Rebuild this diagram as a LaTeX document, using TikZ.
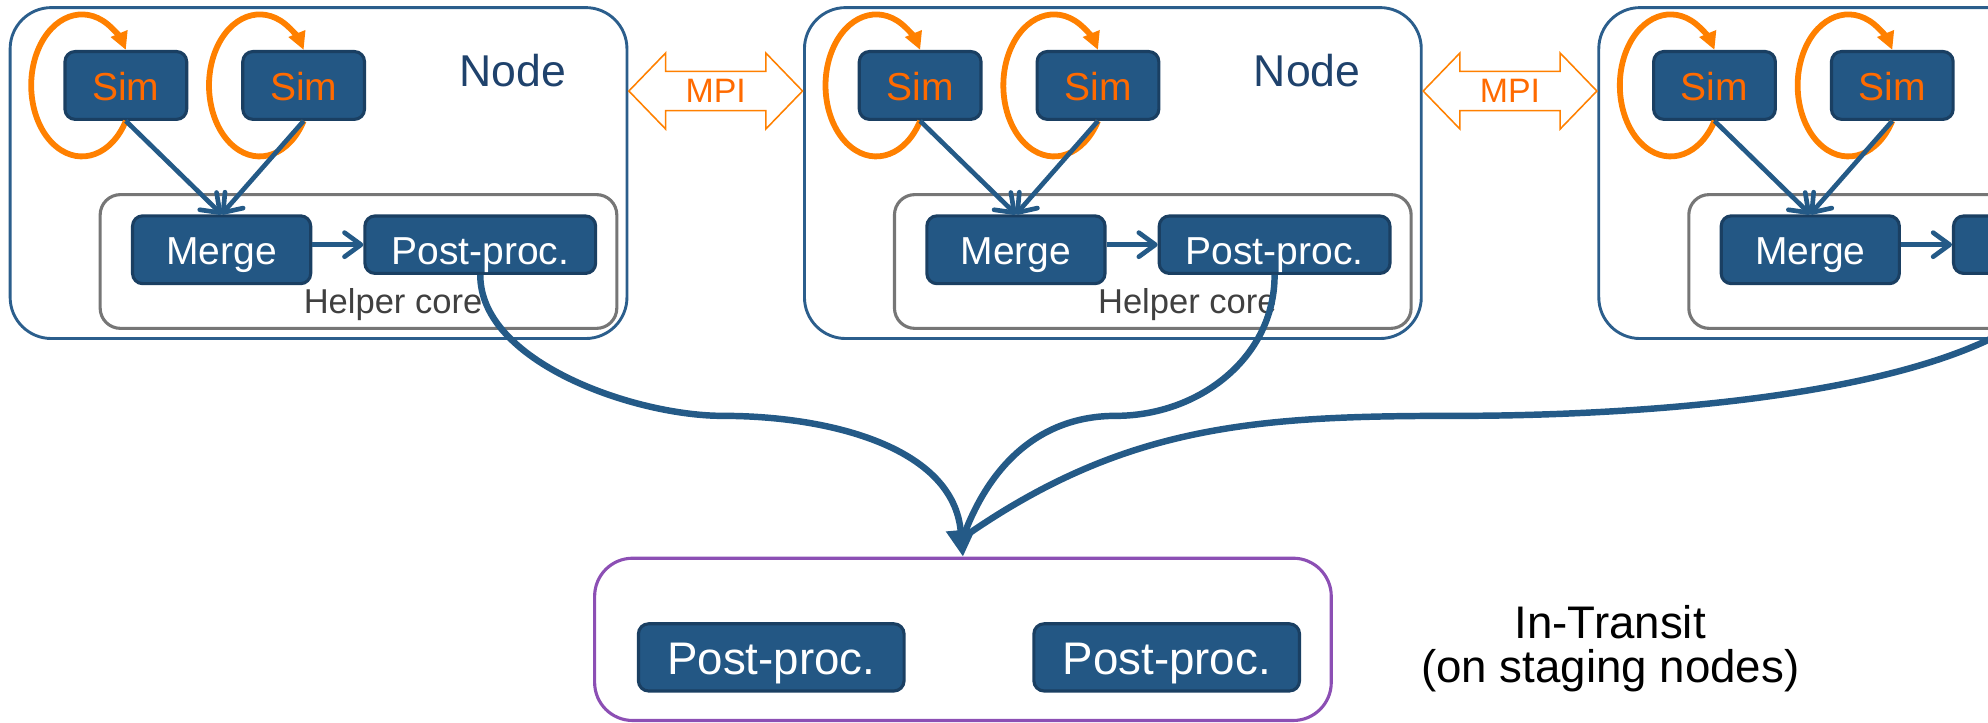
\documentclass[tikz,border=0pt]{standalone}
\usepackage{fontspec}
\setmainfont{Liberation Sans}
\usetikzlibrary{arrows.meta,calc}

\definecolor{boxblue}{HTML}{235784}
\definecolor{boxedge}{HTML}{1A3F62}
\definecolor{nodeblue}{HTML}{2B5E8C}
\definecolor{labelblue}{HTML}{1F426C}
\definecolor{loopor}{HTML}{FF8000}
\definecolor{simor}{HTML}{FF6A00}
\definecolor{linkblue}{HTML}{245A87}
\definecolor{corgray}{HTML}{767676}
\definecolor{coretext}{HTML}{404040}
\definecolor{stagepurple}{HTML}{8C4FB4}

\tikzset{
  nodebox/.style={draw=nodeblue, line width=1.3pt, rounded corners=0.65cm},
  corebox/.style={draw=corgray, line width=1.4pt, rounded corners=0.32cm},
  blk/.style={draw=boxedge, fill=boxblue, line width=1.4pt, rounded corners=0.16cm,
    inner sep=0pt, text=white, text depth=0pt, font=\fontsize{17.5}{20}\selectfont},
  simbox/.style={blk, text=simor, minimum width=1.92cm, minimum height=1.07cm, text height=0.48cm},
  mergebox/.style={blk, minimum width=2.81cm, minimum height=1.07cm, text height=0.47cm},
  postbox/.style={blk, minimum width=3.64cm, minimum height=0.906cm, text height=0.636cm},
  stagepost/.style={blk, minimum width=4.19cm, minimum height=1.06cm, text height=0.54cm,
    font=\fontsize{20.5}{24}\selectfont},
  stagebox/.style={draw=stagepurple, line width=1.4pt, rounded corners=0.6cm,
    minimum width=11.62cm, minimum height=2.56cm},
  simloop/.style={draw=loopor, line width=2.6pt, -{Triangle[length=0.28cm,width=0.27cm]}},
  feed/.style={draw=linkblue, line width=2.1pt, -{Straight Barb[length=0.26cm,width=0.38cm,round]}},
  flow/.style={draw=linkblue, line width=2.9pt},
  mpiarrow/.style={draw=loopor, line width=0.7pt},
  mpitxt/.style={text=simor, inner sep=0pt, text depth=0pt, font=\fontsize{15.2}{18}\selectfont},
  nodelbl/.style={text=labelblue, anchor=base, inner sep=0pt, font=\fontsize{20}{24}\selectfont},
  corelbl/.style={text=coretext, anchor=base, inner sep=0pt, font=\fontsize{15.5}{18}\selectfont},
  transit/.style={align=center, inner sep=0pt, font=\fontsize{20.5}{19.9}\selectfont}
}

\begin{document}
\begin{tikzpicture}
  \useasboundingbox (0,0) rectangle (31.36,11.4);
  \clip (0,0) rectangle (31.36,11.4);

  % compute nodes
  \foreach \k/\n/\pp in {0/a/{Post-proc.}, 12.53/b/{Post-proc.}, 25.06/c/{}} {
   \draw[nodebox] (\k+0.16,6.06) rectangle (\k+9.89,11.28);
   \draw[corebox] (\k+1.58,6.22) rectangle (\k+9.73,8.33);
   \node[simbox] (sima\n) at (\k+1.985,10.052) {Sim};
   \node[simbox] (simb\n) at (\k+4.79,10.052) {Sim};
   \node[mergebox] (merge\n) at (\k+3.496,7.46) {Merge};
   \node[postbox] (post\n) at (\k+7.576,7.54) {\pp};
   \draw[simloop] (sima\n.south) arc[start angle=-30, end angle=-330, x radius=0.8cm, y radius=1.12cm];
   \draw[simloop] (simb\n.south) arc[start angle=-30, end angle=-330, x radius=0.8cm, y radius=1.12cm];
   \draw[feed] (sima\n.south) -- (merge\n.north);
   \draw[feed] (simb\n.south) -- (merge\n.north);
   \draw[feed] (merge\n.east |- post\n.west) -- (post\n.west);
  }
  \foreach \k/\n in {0/a, 12.53/b} {
   \node[nodelbl] (lbl\n) at (\k+8.09,10.04) {Node};
   \node[corelbl] (core\n) at (\k+6.2,6.46) {Helper core};
  }

  % MPI links
  \foreach \k/\n in {0/a, 12.53/b} {
   \node[mpitxt] (mpi\n) at (\k+11.29,9.964) {MPI};
   \draw[mpiarrow] ($(mpi\n)+(-1.37,0)$) -- ++(0.58,0.6) -- ++(0,-0.29) -- ++(1.58,0)
     -- ++(0,0.29) -- ++(0.58,-0.6) -- ++(-0.58,-0.6) -- ++(0,0.29) -- ++(-1.58,0)
     -- ++(0,-0.29) -- cycle;
  }

  % staging nodes
  \node[stagebox] (stage) at (15.19,1.3145) {};
  \node[stagepost] (stagea) at (12.166,1.03) {Post-proc.};
  \node[stagepost] (stageb) at (18.404,1.03) {Post-proc.};
  \node[transit] (transit) at (25.4,1.172) {In-Transit\\(on staging nodes)};

  \coordinate (m1) at (11.4,4.84);
  \coordinate (m2) at (17.6,4.84);
  \coordinate (m3) at (23.0,4.84);
  \coordinate (hub) at ($(stage.north)+(0,0.3)$);
  \draw[flow] (postb.south) to[out=-90,in=0] (m2) to[out=180,in=70] (hub);
  \draw[flow] (postc.south) to[out=-120,in=0,looseness=0.6] (m3) to[out=180,in=35] (hub);
  \draw[flow,-{Triangle[length=0.42cm,width=0.44cm]}] (posta.south) to[out=-90,in=180,looseness=0.8] (m1) to[out=0,in=95] (stage.north);
 \end{tikzpicture}
\end{document}
